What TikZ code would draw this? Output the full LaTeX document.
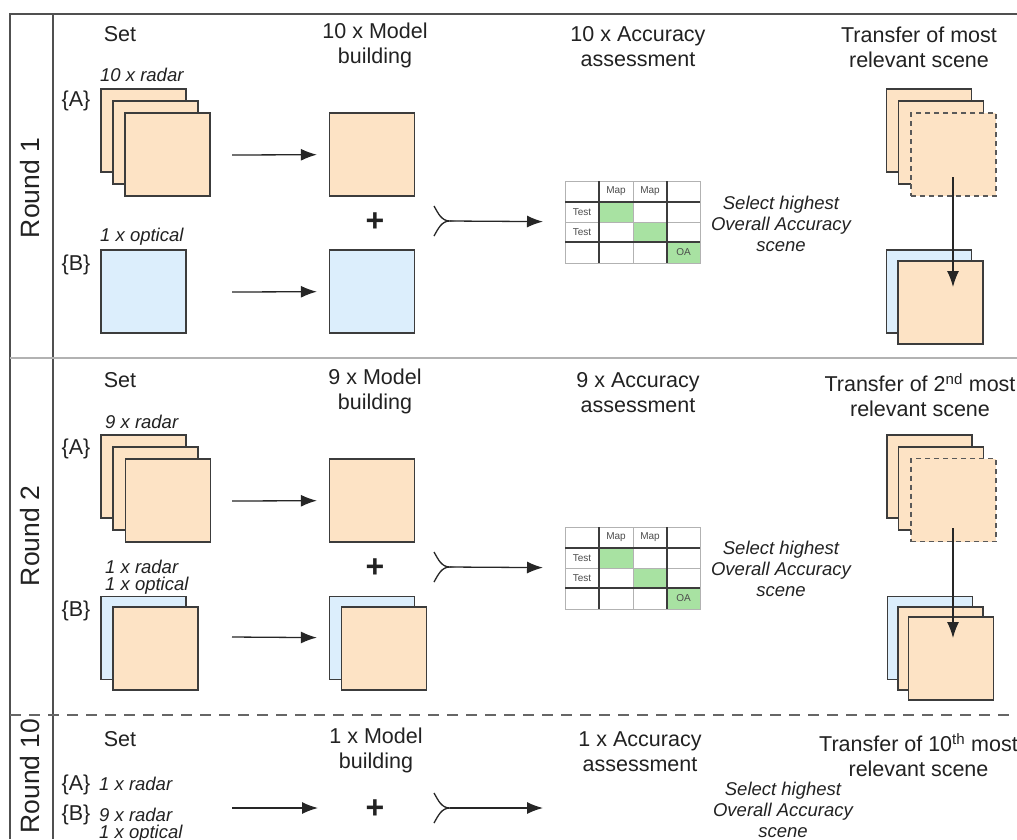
\documentclass[tikz,border=0pt]{standalone}
\usepackage{fontspec}
\setmainfont{Liberation Sans}
\usetikzlibrary{arrows.meta}

\definecolor{peach}{HTML}{FDE3C5}
\definecolor{sky}{HTML}{DCEEFC}
\definecolor{okgreen}{HTML}{A8E2A2}
\definecolor{edge}{HTML}{3C3C3C}
\definecolor{txt}{HTML}{222222}

\tikzset{
  sq/.style={draw=edge,line width=1.3pt,minimum width=85pt,minimum height=83pt,inner sep=0pt},
  radar/.style={sq,fill=peach},
  optical/.style={sq,fill=sky},
  ghost/.style={radar,draw=edge!85,dash pattern=on 5pt off 4pt},
  head/.style={font=\fontsize{21.5}{25}\selectfont,align=center,text=txt,inner sep=0pt},
  lab/.style={font=\fontsize{18.5}{17}\selectfont\itshape,anchor=west,align=left,text=txt,inner sep=0pt},
  brc/.style={font=\fontsize{21.5}{25}\selectfont,text=txt,inner sep=0pt},
  sel/.style={font=\fontsize{18.5}{21}\selectfont\itshape,align=center,text=txt,inner sep=0pt},
  roundlab/.style={font=\fontsize{26.5}{30}\selectfont,rotate=90,text=txt,inner sep=0pt},
  plus/.style={font=\fontsize{32}{32}\selectfont\bfseries,text=txt,inner sep=0pt},
  cell/.style={font=\fontsize{10}{10}\selectfont,text=black!70,inner sep=0pt},
  arr/.style={-{Latex[length=16pt,width=12pt]},line width=1.3pt,draw=black!85},
  merge/.style={line width=1.3pt,draw=black!85},
  acctable/.pic={
    \node[minimum width=135pt,minimum height=82pt,inner sep=0pt,anchor=north west] (-box) at (0,0) {};
    \fill[okgreen] (34,21) rectangle (68,41) (68,41) rectangle (102,61) (102,61) rectangle (135,82);
    \draw[black!30,line width=0.8pt] (0,0) rectangle (135,82) (68,0) -- (68,82) (0,41) -- (135,41);
    \draw[edge,line width=1.4pt] (34,0) -- (34,82) (102,0) -- (102,82) (0,21) -- (135,21) (0,61) -- (135,61);
    \node[cell] (-m1) at (51,10.5) {Map};
    \node[cell] (-m2) at (85,10.5) {Map};
    \node[cell] (-t1) at (17,31) {Test};
    \node[cell] (-t2) at (17,51) {Test};
    \node[cell] (-oa) at (118.5,71.5) {OA};
  }
}

\begin{document}
\begin{tikzpicture}[x=1pt,y=-1pt]
  \useasboundingbox[fill=white] (0,0) rectangle (1017,839);
  % frame
  \draw[edge!90,line width=1.2pt] (10,839) -- (10,14) -- (1017,14);
  \draw[edge!90,line width=1.2pt] (53,14) -- (53,839);
  \draw[black!30,line width=1.5pt] (10,358) -- (1017,358);
  \draw[black!60,line width=1.3pt,dash pattern=on 11pt off 8pt] (10,715) -- (1017,715);

  % round 1
  \node[roundlab] (r1) at (30,188) {Round 1};
  \node[head] (set1) at (120,34) {Set};
  \node[head] (mod1) at (375,45) {10 x Model\\building};
  \node[head] (acc1) at (638,47) {10 x Accuracy\\assessment};
  \node[head] (tr1) at (919,47) {Transfer of most\\relevant scene};
  \node[lab] (la1) at (100,75) {10 x radar};
  \node[brc] (ba1) at (76,101) {\{A\}};
  \node[radar] (a1a) at (143.5,130.5) {};
  \node[radar] (a1b) at (155.5,142.5) {};
  \node[radar] (a1c) at (167.5,154.5) {};
  \node[lab] (lb1) at (100,237) {1 x optical};
  \node[brc] (bb1) at (76,265) {\{B\}};
  \node[optical] (b1) at (143.5,291.5) {};
  \node[radar] (m1a) at (372,154.5) {};
  \node[optical] (m1b) at (372,291.5) {};
  \node[plus] (p1) at (375,222) {+};
  \coordinate (s1a) at (232,155);
  \coordinate (s1b) at (232,292);
  \draw[arr,shorten >=12pt] (s1a) -- (m1a);
  \draw[arr,shorten >=12pt] (s1b) -- (m1b);
  \coordinate (j1) at (450,221);
  \coordinate (j1t) at (434,206);
  \coordinate (j1b) at (434,236);
  \draw[merge] (j1t) to[out=-60,in=180] (j1) to[out=180,in=60] (j1b);
  \pic (cm1) at (565,181) {acctable};
  \draw[arr,shorten >=22pt] (j1) -- (cm1-box);
  \node[sel] (sl1) at (781,224) {Select highest\\Overall Accuracy\\scene};
  \node[radar] (x1a) at (929,130.5) {};
  \node[radar] (x1b) at (941,142.5) {};
  \node[ghost] (x1c) at (953.5,154.5) {};
  \node[optical] (x1d) at (929,291.5) {};
  \node[radar] (x1e) at (940.5,302.5) {};
  \coordinate (d1s) at (953,177);
  \coordinate (d1e) at (953,287);
  \draw[arr] (d1s) -- (d1e);

  % round 2
  \node[roundlab] (r2) at (30,536) {Round 2};
  \node[head] (set2) at (120,380) {Set};
  \node[head] (mod2) at (375,391) {9 x Model\\building};
  \node[head] (acc2) at (638,393) {9 x Accuracy\\assessment};
  \node[head] (tr2) at (920,395) {Transfer of 2\textsuperscript{nd} most\\relevant scene};
  \node[lab] (la2) at (105,422) {9 x radar};
  \node[brc] (ba2) at (76,449) {\{A\}};
  \node[radar] (a2a) at (143.5,476.5) {};
  \node[radar] (a2b) at (155.5,488.5) {};
  \node[radar] (a2c) at (168,500.5) {};
  \node[lab] (lb2) at (105,577) {1 x radar\\1 x optical};
  \node[brc] (bb2) at (76,611) {\{B\}};
  \node[optical] (b2a) at (143.5,638) {};
  \node[radar] (b2b) at (155.5,648.5) {};
  \node[radar] (m2a) at (372,500.5) {};
  \node[optical] (m2b) at (372,638) {};
  \node[radar] (m2c) at (384,648.5) {};
  \node[plus] (p2) at (375,568) {+};
  \coordinate (s2a) at (232,501);
  \coordinate (s2b) at (232,637);
  \draw[arr,shorten >=12pt] (s2a) -- (m2a);
  \draw[arr,shorten >=12pt] (s2b) -- (m2b);
  \coordinate (j2) at (450,567);
  \coordinate (j2t) at (434,552);
  \coordinate (j2b) at (434,582);
  \draw[merge] (j2t) to[out=-60,in=180] (j2) to[out=180,in=60] (j2b);
  \pic (cm2) at (565,527) {acctable};
  \draw[arr,shorten >=22pt] (j2) -- (cm2-box);
  \node[sel] (sl2) at (781,569) {Select highest\\Overall Accuracy\\scene};
  \node[radar] (x2a) at (929.5,476.5) {};
  \node[radar] (x2b) at (941,488.5) {};
  \node[ghost] (x2c) at (953.5,500) {};
  \node[optical] (x2d) at (930,638) {};
  \node[radar] (x2e) at (940.5,648.5) {};
  \node[radar] (x2f) at (951,658.5) {};
  \coordinate (d2s) at (953,528);
  \coordinate (d2e) at (953,638);
  \draw[arr] (d2s) -- (d2e);

  % round 10
  \node[roundlab] (r3) at (30,776) {Round 10};
  \node[head] (set3) at (120,739) {Set};
  \node[head] (mod3) at (376,750) {1 x Model\\building};
  \node[head] (acc3) at (640,752) {1 x Accuracy\\assessment};
  \node[head] (tr3) at (918.5,755) {Transfer of 10\textsuperscript{th} most\\relevant scene};
  \node[brc] (ba3) at (76,785) {\{A\}};
  \node[lab] (la3) at (99,784) {1 x radar};
  \node[brc] (bb3) at (76,815) {\{B\}};
  \node[lab] (lb3) at (99,825) {9 x radar\\1 x optical};
  \coordinate (s3) at (232,808);
  \coordinate (e3) at (318,808);
  \draw[arr] (s3) -- (e3);
  \node[plus] (p3) at (375,809) {+};
  \coordinate (j3) at (450,808);
  \coordinate (j3t) at (434,793);
  \coordinate (j3b) at (434,823);
  \coordinate (k3) at (543,808);
  \draw[merge] (j3t) to[out=-60,in=180] (j3) to[out=180,in=60] (j3b);
  \draw[arr] (j3) -- (k3);
  \node[sel] (sl3) at (783,810) {Select highest\\Overall Accuracy\\scene};
\end{tikzpicture}
\end{document}
